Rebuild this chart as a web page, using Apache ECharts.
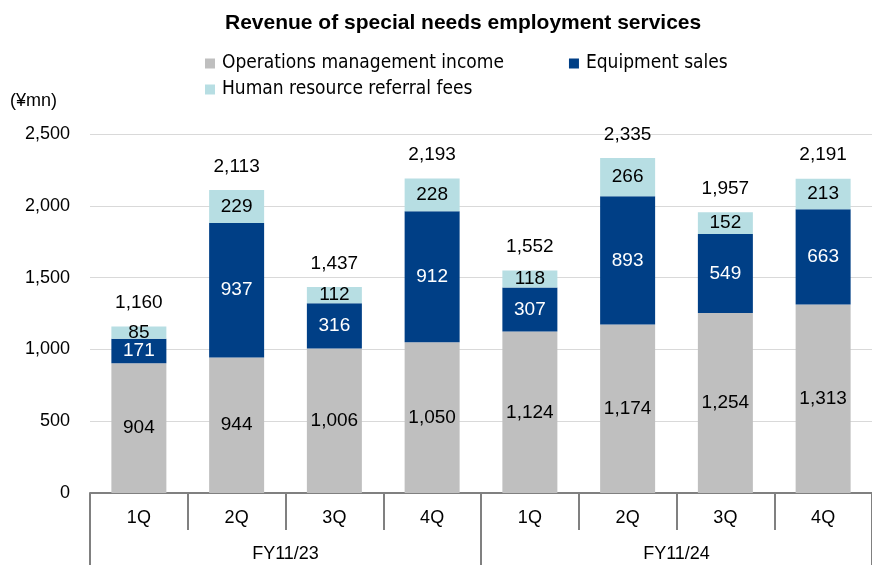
<!DOCTYPE html>
<html><head><meta charset="utf-8">
<script src="https://cdn.jsdelivr.net/npm/echarts@6/dist/echarts.min.js"></script>
<style>html,body{margin:0;padding:0;background:#fff}#c{width:872px;height:565px}</style>
</head><body><div id="c"></div>
<script>
const quarters = ['1Q','2Q','3Q','4Q','1Q','2Q','3Q','4Q'];
const fiscalYears = ['FY11/23','FY11/24'];
const operations = [904, 944, 1006, 1050, 1124, 1174, 1254, 1313];
const equipment = [171, 937, 316, 912, 307, 893, 549, 663];
const referral = [85, 229, 112, 228, 118, 266, 152, 213];
const totals = [1160, 2113, 1437, 2193, 1552, 2335, 1957, 2191];
const seriesNames = ['Operations management income','Equipment sales','Human resource referral fees'];

const FONT = '"Liberation Sans", Arial, sans-serif';
const fmt = v => v.toLocaleString('en-US');
const chart = echarts.init(document.getElementById('c'));
const lbl = (color) => ({show:true, position:'inside', color, fontFamily:FONT, fontSize:19,
  formatter: p => fmt(p.value)});
const legendText = {fontFamily:'"DejaVu Sans Condensed", sans-serif', fontSize:19, color:'#000', padding:[0,0,0,2]};
chart.setOption({
  animation:false,
  title:{text:'Revenue of special needs employment services', left:220, top:8,
    textStyle:{fontFamily:FONT, fontSize:21, fontWeight:'bold', color:'#000'}},
  legend:[
    {left:200, top:49, itemWidth:10, itemHeight:10, itemGap:65, icon:'rect',
      data:[seriesNames[0], seriesNames[1]], textStyle:legendText},
    {left:200, top:75, itemWidth:10, itemHeight:10, icon:'rect',
      data:[seriesNames[2]], textStyle:legendText}
  ],
  grid:{left:90, right:0, top:134, bottom:72, containLabel:false},
  xAxis:[{
    type:'category', data:quarters, position:'bottom',
    axisLine:{lineStyle:{color:'#808080', width:2}},
    axisTick:{show:true, length:37, lineStyle:{color:'#808080', width:2}},
    axisLabel:{margin:16, color:'#000', fontFamily:FONT, fontSize:18}
  },{
    type:'category', data:fiscalYears, position:'bottom',
    axisLine:{show:false},
    axisTick:{show:true, length:72, lineStyle:{color:'#808080', width:2}},
    axisLabel:{margin:52, color:'#000', fontFamily:FONT, fontSize:18}
  }],
  yAxis:{type:'value', min:0, max:2500, interval:500,
    name:'(¥mn)', nameLocation:'end', nameGap:24,
    nameTextStyle:{fontFamily:FONT, fontSize:18, color:'#000', align:'left', padding:[0,0,0,-80]},
    axisLine:{show:false}, axisTick:{show:false},
    splitLine:{lineStyle:{color:'#D9D9D9', width:1}},
    axisLabel:{margin:20, color:'#000', fontFamily:FONT, fontSize:18,
      formatter: v => fmt(v)}},
  series:[
    {name:seriesNames[0], type:'bar', stack:'s', data:operations, barWidth:55,
      itemStyle:{color:'#BFBFBF'}, label:lbl('#000')},
    {name:seriesNames[1], type:'bar', stack:'s', data:equipment,
      itemStyle:{color:'#003F86'}, label:lbl('#fff')},
    {name:seriesNames[2], type:'bar', stack:'s', data:referral,
      itemStyle:{color:'#B7DEE3'}, label:lbl('#000')},
    {name:'Total', type:'bar', stack:'s', data:totals.map(()=>0),
      itemStyle:{color:'transparent'},
      label:{show:true, position:'top', distance:14, color:'#000', fontFamily:FONT, fontSize:19,
        formatter: p => fmt(totals[p.dataIndex])}}
  ]
});
</script></body></html>
